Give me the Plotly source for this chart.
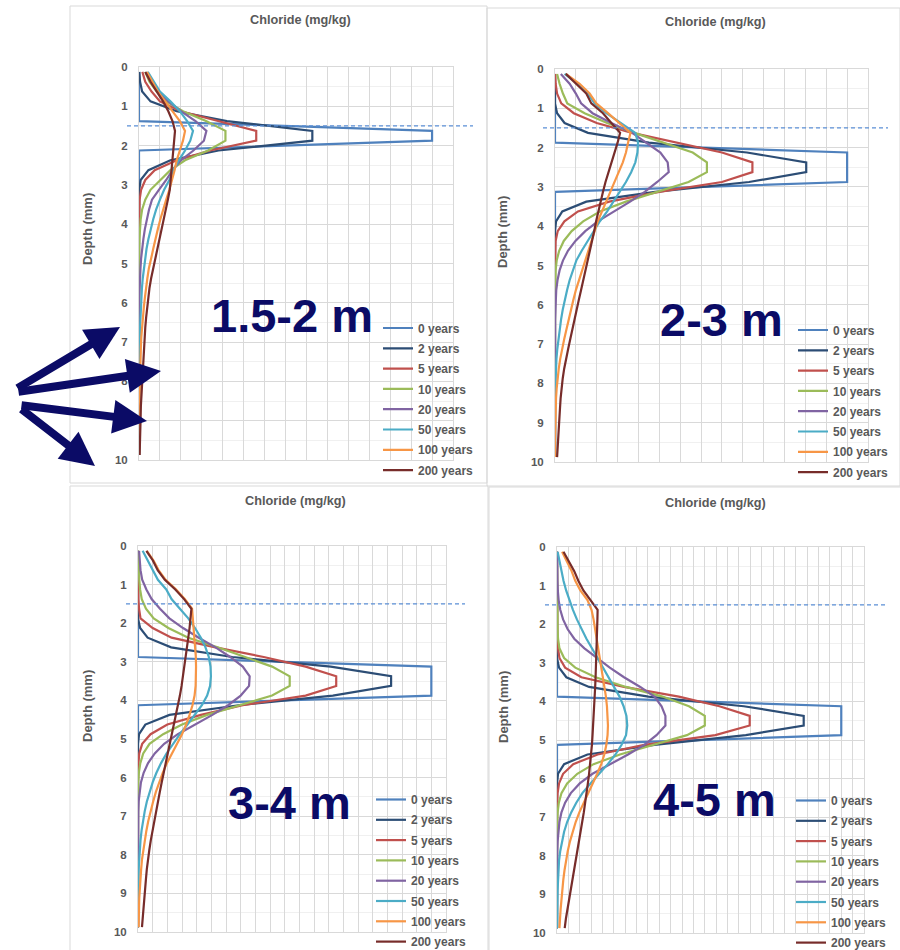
import plotly.graph_objects as go

W, H = 900, 950

# ---------------- data ----------------
depth_mm = [0.125, 0.375, 0.625, 0.875, 1.125, 1.375, 1.625, 1.875, 2.125, 2.375,
            2.625, 2.875, 3.125, 3.375, 3.625, 3.875, 4.125, 4.375, 4.625, 4.875,
            5.125, 5.375, 5.625, 5.875, 6.125, 6.375, 6.625, 6.875, 7.125, 7.375,
            7.625, 7.875, 8.125, 8.375, 8.625, 8.875, 9.125, 9.375, 9.625, 9.875]
depth_ticks = [0, 1, 2, 3, 4, 5, 6, 7, 8, 9, 10]
series_names = ["0 years", "2 years", "5 years", "10 years", "20 years",
                "50 years", "100 years", "200 years"]
series_colors = ["#4F81BD", "#2C4D75", "#C0504D", "#9BBB59", "#8064A2",
                 "#4BACC6", "#F79646", "#772C2A"]
panel_labels = ["1.5-2 m", "2-3 m", "3-4 m", "4-5 m"]
x_title = "Chloride (mg/kg)"
y_title = "Depth (mm)"

# Panel 1: 1.5-2 m (mg/kg)
p1_0y = [0, 0, 0, 0, 0, 0, 1400, 1400, 0, 0, 0, 0, 0, 0, 0, 0, 0, 0, 0, 0,
         0, 0, 0, 0, 0, 0, 0, 0, 0, 0, 0, 0, 0, 0, 0, 0, 0, 0, 0, 0]
p1_2y = [2, 5, 15, 55, 180, 420, 828, 828, 380, 150, 45, 8, 1, 0, 0, 0, 0, 0, 0, 0,
         0, 0, 0, 0, 0, 0, 0, 0, 0, 0, 0, 0, 0, 0, 0, 0, 0, 0, 0, 0]
p1_5y = [16, 30, 60, 100, 200, 380, 560, 560, 340, 180, 75, 30, 10, 3, 1, 0, 0, 0, 0, 0,
         0, 0, 0, 0, 0, 0, 0, 0, 0, 0, 0, 0, 0, 0, 0, 0, 0, 0, 0, 0]
p1_10y = [30, 50, 85, 130, 210, 320, 413, 413, 330, 220, 150, 100, 55, 30, 15, 8, 4, 2, 1, 0,
          0, 0, 0, 0, 0, 0, 0, 0, 0, 0, 0, 0, 0, 0, 0, 0, 0, 0, 0, 0]
p1_20y = [35, 60, 95, 140, 200, 270, 322, 310, 260, 200, 160, 130, 95, 62, 48, 37, 28, 21, 15, 10,
          7, 4, 2, 1, 0, 0, 0, 0, 0, 0, 0, 0, 0, 0, 0, 0, 0, 0, 0, 0]
p1_50y = [42, 70, 100, 150, 195, 230, 258, 245, 220, 190, 165, 145, 120, 100, 82, 68, 55, 45, 36, 29,
          23, 18, 14, 11, 8, 6, 5, 4, 3, 2, 2, 1, 1, 0, 0, 0, 0, 0, 0, 0]
p1_100y = [38, 62, 90, 125, 160, 195, 220, 210, 195, 180, 170, 158, 145, 130, 115, 102, 90, 78, 68, 58,
           47, 40, 33, 28, 23, 18, 14, 11, 9, 7, 6, 5, 4, 3, 2, 2, 1, 1, 1, 0]
p1_200y = [30, 55, 85, 115, 140, 160, 172, 168, 164, 160, 157, 153, 147, 138, 128, 118, 108, 98, 86, 76,
           67, 58, 50, 44, 39, 34, 30, 27, 24, 21, 18, 15, 13, 11, 9, 8, 6, 5, 4, 3]

# Panel 2: 2-3 m
p2_0y = [0, 0, 0, 0, 0, 0, 0, 0, 1400, 1400, 1400, 1400, 0, 0, 0, 0, 0, 0, 0, 0,
         0, 0, 0, 0, 0, 0, 0, 0, 0, 0, 0, 0, 0, 0, 0, 0, 0, 0, 0, 0]
p2_2y = [0, 0, 0, 0, 10, 46, 158, 450, 920, 1204, 1204, 930, 480, 150, 35, 5, 0, 0, 0, 0,
         0, 0, 0, 0, 0, 0, 0, 0, 0, 0, 0, 0, 0, 0, 0, 0, 0, 0, 0, 0]
p2_5y = [1, 3, 10, 30, 90, 200, 370, 580, 800, 946, 946, 800, 500, 260, 110, 45, 13, 3, 1, 0,
         0, 0, 0, 0, 0, 0, 0, 0, 0, 0, 0, 0, 0, 0, 0, 0, 0, 0, 0, 0]
p2_10y = [10, 22, 38, 59, 142, 250, 380, 520, 660, 728, 728, 640, 490, 340, 215, 135, 80, 42, 20, 8,
          3, 1, 0, 0, 0, 0, 0, 0, 0, 0, 0, 0, 0, 0, 0, 0, 0, 0, 0, 0]
p2_20y = [28, 70, 100, 125, 180, 270, 370, 440, 505, 540, 545, 490, 430, 360, 280, 205, 145, 98, 62, 38,
          22, 12, 6, 3, 1, 0, 0, 0, 0, 0, 0, 0, 0, 0, 0, 0, 0, 0, 0, 0]
p2_50y = [46, 110, 158, 190, 246, 318, 385, 398, 395, 385, 365, 340, 310, 280, 250, 215, 185, 155, 128, 102,
          85, 70, 58, 46, 37, 29, 22, 16, 11, 7, 4, 2, 1, 0, 0, 0, 0, 0, 0, 0]
p2_100y = [52, 118, 166, 198, 254, 310, 362, 350, 340, 325, 305, 285, 265, 245, 225, 205, 190, 175, 160, 142,
           128, 114, 100, 88, 76, 65, 55, 44, 34, 25, 18, 12, 8, 5, 3, 2, 1, 0, 0, 0]
p2_200y = [52, 102, 150, 174, 230, 270, 312, 300, 285, 270, 255, 242, 230, 218, 207, 197, 188, 178, 168, 158,
           147, 136, 125, 114, 103, 93, 83, 73, 63, 53, 44, 37, 31, 27, 24, 21, 18, 15, 12, 10]

# Panel 3: 3-4 m
p3_0y = [0, 0, 0, 0, 0, 0, 0, 0, 0, 0, 0, 0, 1400, 1400, 1400, 1400, 0, 0, 0, 0,
         0, 0, 0, 0, 0, 0, 0, 0, 0, 0, 0, 0, 0, 0, 0, 0, 0, 0, 0, 0]
p3_2y = [0, 0, 0, 0, 0, 0, 0, 0, 10, 46, 158, 450, 920, 1208, 1208, 930, 480, 150, 35, 5,
         0, 0, 0, 0, 0, 0, 0, 0, 0, 0, 0, 0, 0, 0, 0, 0, 0, 0, 0, 0]
p3_5y = [0, 0, 0, 1, 1, 2, 5, 12, 70, 160, 370, 600, 800, 946, 946, 800, 500, 300, 140, 60,
         20, 6, 2, 0, 0, 0, 0, 0, 0, 0, 0, 0, 0, 0, 0, 0, 0, 0, 0, 0]
p3_10y = [2, 3, 4, 6, 10, 18, 38, 75, 145, 240, 380, 510, 640, 724, 724, 640, 480, 330, 210, 120,
          55, 25, 11, 4, 1, 0, 0, 0, 0, 0, 0, 0, 0, 0, 0, 0, 0, 0, 0, 0]
p3_20y = [5, 8, 12, 20, 40, 65, 105, 150, 215, 290, 370, 440, 500, 533, 530, 490, 430, 355, 270, 190,
          125, 80, 48, 27, 14, 7, 3, 1, 0, 0, 0, 0, 0, 0, 0, 0, 0, 0, 0, 0]
p3_50y = [22, 45, 70, 95, 135, 160, 200, 240, 272, 300, 322, 338, 346, 348, 344, 330, 305, 272, 236, 200,
          166, 136, 110, 88, 70, 55, 42, 32, 24, 17, 12, 8, 5, 3, 2, 1, 0, 0, 0, 0]
p3_100y = [42, 74, 98, 132, 182, 224, 258, 262, 266, 270, 273, 276, 277, 277, 275, 270, 260, 246, 230, 210,
           185, 160, 138, 118, 100, 85, 72, 60, 49, 40, 32, 25, 19, 15, 11, 8, 6, 5, 4, 3]
p3_200y = [40, 71, 94, 128, 178, 220, 255, 252, 246, 240, 234, 228, 222, 215, 208, 200, 190, 180, 170, 160,
           150, 140, 131, 122, 113, 104, 95, 86, 77, 69, 61, 54, 47, 42, 38, 34, 30, 26, 22, 19]

# Panel 4: 4-5 m
p4_0y = [0, 0, 0, 0, 0, 0, 0, 0, 0, 0, 0, 0, 0, 0, 0, 0, 1400, 1400, 1400, 1400,
         0, 0, 0, 0, 0, 0, 0, 0, 0, 0, 0, 0, 0, 0, 0, 0, 0, 0, 0, 0]
p4_2y = [0, 0, 0, 0, 0, 0, 0, 0, 0, 0, 0, 0, 10, 46, 158, 450, 920, 1215, 1215, 930,
         480, 150, 35, 5, 0, 0, 0, 0, 0, 0, 0, 0, 0, 0, 0, 0, 0, 0, 0, 0]
p4_5y = [0, 0, 0, 0, 0, 0, 0, 1, 1, 2, 5, 12, 40, 120, 330, 600, 800, 949, 949, 780,
         430, 200, 80, 30, 10, 3, 1, 0, 0, 0, 0, 0, 0, 0, 0, 0, 0, 0, 0, 0]
p4_10y = [0, 0, 0, 0, 0, 0, 1, 2, 3, 5, 12, 35, 90, 190, 340, 520, 650, 728, 728, 640,
          470, 310, 180, 100, 50, 22, 9, 3, 1, 0, 0, 0, 0, 0, 0, 0, 0, 0, 0, 0]
p4_20y = [0, 0, 1, 2, 4, 8, 16, 30, 52, 85, 135, 195, 260, 330, 410, 480, 515, 534, 534, 490,
          430, 350, 260, 175, 112, 68, 40, 22, 12, 6, 3, 1, 0, 0, 0, 0, 0, 0, 0, 0]
p4_50y = [3, 12, 22, 32, 45, 60, 78, 98, 120, 145, 172, 200, 228, 256, 283, 308, 328, 342, 346, 340,
          318, 288, 250, 205, 165, 125, 95, 70, 50, 35, 24, 16, 10, 7, 4, 3, 2, 1, 1, 0]
p4_100y = [25, 50, 72, 90, 115, 150, 170, 180, 188, 196, 204, 212, 220, 228, 235, 241, 246, 250, 251, 249,
           243, 233, 218, 198, 175, 152, 130, 110, 92, 77, 64, 53, 44, 37, 31, 26, 22, 18, 15, 12]
p4_200y = [32, 60, 85, 105, 130, 165, 200, 199, 198, 197, 196, 194, 192, 190, 188, 186, 184, 181, 178, 175,
           172, 168, 163, 158, 152, 146, 140, 132, 124, 116, 108, 100, 91, 82, 73, 65, 57, 50, 44, 38]

panel_series = [
    [p1_0y, p1_2y, p1_5y, p1_10y, p1_20y, p1_50y, p1_100y, p1_200y],
    [p2_0y, p2_2y, p2_5y, p2_10y, p2_20y, p2_50y, p2_100y, p2_200y],
    [p3_0y, p3_2y, p3_5y, p3_10y, p3_20y, p3_50y, p3_100y, p3_200y],
    [p4_0y, p4_2y, p4_5y, p4_10y, p4_20y, p4_50y, p4_100y, p4_200y],
]
x_max = [1500, 1500, 1470, 1512]
x_grid = [100, 100, 70, 56]

# ---------------- layout geometry (pixels) ----------------
geom = [
    dict(plot=(139, 67, 453, 460), frame=(70, 6, 487, 483), title=(300, 20), ytitle=(87, 229),
         label=(292, 316), dash=(127, 473), legend=(378, 313.5)),
    dict(plot=(555, 69, 868, 462), frame=(487, 8, 900, 486), title=(715, 22), ytitle=(503, 232),
         label=(721, 320), dash=(543, 888), legend=(793, 315.5)),
    dict(plot=(138, 546, 446, 932), frame=(70, 486, 488, 951), title=(295, 501), ytitle=(87, 706),
         label=(289, 802), dash=(126, 465), legend=(371, 785)),
    dict(plot=(557, 547, 864, 933), frame=(489, 487, 901, 951), title=(715, 503), ytitle=(503, 707),
         label=(714, 799), dash=(545, 885), legend=(791, 786)),
]


def px(x):
    return x / W


def py(y):
    return 1 - y / H


FONT = "Liberation Sans, Arial, sans-serif"
GREY = "#595959"
NAVY = "#0B0B66"
GRID = "#d9d9d9"

fig = go.Figure()
layout = dict(
    width=W, height=H,
    margin=dict(l=0, r=0, t=0, b=0, autoexpand=False),
    paper_bgcolor="white", plot_bgcolor="white",
    showlegend=True,
    shapes=[], annotations=[],
)

for i in range(4):
    g = geom[i]
    n = "" if i == 0 else str(i + 1)
    xa, ya = "x" + n, "y" + n
    leg = "legend" if i == 0 else "legend" + str(i + 1)
    for name, color, vals in zip(series_names, series_colors, panel_series[i]):
        fig.add_trace(go.Scatter(
            x=vals, y=depth_mm, mode="lines", name=name,
            line=dict(color=color, width=2.2),
            xaxis=xa, yaxis=ya, legend=leg, legendgroup=f"p{i}-{name}",
            hoverinfo="skip",
        ))
    x0, y0, x1, y1 = g["plot"]
    layout["xaxis" + n] = dict(
        domain=[px(x0), px(x1)], range=[0, x_max[i]], dtick=x_grid[i], tick0=0,
        showticklabels=False, ticks="", showgrid=True, gridcolor=GRID, gridwidth=1,
        zeroline=False, showline=True, linecolor=GRID, mirror=True, anchor=ya,
    )
    layout["yaxis" + n] = dict(
        domain=[py(y1), py(y0)], range=[10, 0], tickvals=depth_ticks,
        showgrid=True, gridcolor=GRID, gridwidth=1,
        minor=dict(dtick=0.5, tick0=0, showgrid=True, gridcolor="#f0f0f0", ticks=""),
        zeroline=False, showline=True, linecolor=GRID, mirror=True, anchor=xa,
        ticks="", ticklabelstandoff=8,
        tickfont=dict(family=FONT, size=11.5, color=GREY, weight="bold"),
    )
    lx, ly = g["legend"]
    layout[leg] = dict(
        x=px(lx), y=py(ly), xanchor="left", yanchor="top",
        bgcolor="rgba(0,0,0,0)", borderwidth=0, tracegroupgap=1.3,
        font=dict(family=FONT, size=12, color=GREY, weight="bold"),
        itemclick=False, itemdoubleclick=False,
    )
    # frame
    fx0, fy0, fx1, fy1 = g["frame"]
    layout["shapes"].append(dict(
        type="rect", xref="paper", yref="paper",
        x0=px(fx0), x1=px(fx1), y0=py(fy1), y1=py(fy0),
        line=dict(color="#d9d9d9", width=1), fillcolor="rgba(0,0,0,0)", layer="below",
    ))
    # dashed 1.5 reference line
    dx0, dx1 = g["dash"]
    layout["shapes"].append(dict(
        type="line", xref="paper", yref=ya, x0=px(dx0), x1=px(dx1), y0=1.5, y1=1.5,
        line=dict(color="#5B8FD6", width=1.2, dash="4px,3px"), layer="above",
    ))
    # titles
    tx, ty = g["title"]
    layout["annotations"].append(dict(
        text=x_title, x=px(tx), y=py(ty), xref="paper", yref="paper",
        xanchor="center", yanchor="middle", showarrow=False,
        font=dict(family=FONT, size=12.7, color=GREY, weight="bold"),
    ))
    yx, yy = g["ytitle"]
    layout["annotations"].append(dict(
        text=y_title, x=px(yx), y=py(yy), xref="paper", yref="paper",
        xanchor="center", yanchor="middle", showarrow=False, textangle=-90,
        font=dict(family=FONT, size=13, color=GREY, weight="bold"),
    ))
    bx, by = g["label"]
    layout["annotations"].append(dict(
        text=panel_labels[i], x=px(bx), y=py(by), xref="paper", yref="paper",
        xanchor="center", yanchor="middle", showarrow=False,
        font=dict(family=FONT, size=47, color=NAVY, weight="bold"),
    ))

# arrows (tail -> tip, pixels)
arrows = [((16, 389), (120, 327)), ((17, 392), (161, 371)),
          ((20, 405), (147, 421)), ((20, 408), (95, 466))]
for (tx_, ty_), (hx, hy) in arrows:
    layout["annotations"].append(dict(
        text="", x=px(hx), y=py(hy), xref="paper", yref="paper",
        ax=tx_ - hx, ay=ty_ - hy, axref="pixel", ayref="pixel",
        showarrow=True, arrowhead=2, arrowsize=0.85, arrowwidth=8,
        arrowcolor=NAVY, standoff=0,
    ))

fig.update_layout(**layout)
fig.write_html("out.html")
